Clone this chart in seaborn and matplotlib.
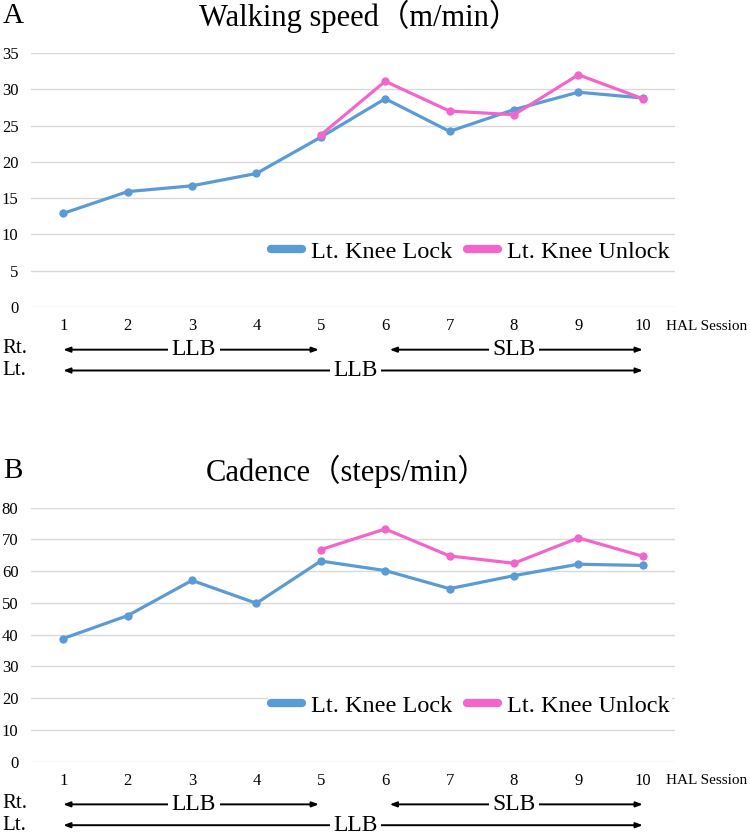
import pandas as pd
import matplotlib
matplotlib.use('Agg')
import matplotlib.pyplot as plt
from matplotlib.lines import Line2D
import seaborn as sns

# data
sessions = list(range(1, 11))
unlock_sessions = list(range(5, 11))
speed_lock = [12.9, 15.9, 16.7, 18.4, 23.4, 28.7, 24.2, 27.2, 29.6, 28.8]
speed_unlock = [23.7, 31.1, 27.0, 26.5, 32.0, 28.7]
cadence_lock = [38.8, 46.0, 57.1, 49.9, 63.2, 60.2, 54.5, 58.6, 62.2, 61.8]
cadence_unlock = [66.8, 73.3, 64.8, 62.5, 70.5, 64.7]
series_names = ['Lt. Knee Lock', 'Lt. Knee Unlock']
palette = {'Lt. Knee Lock': '#5B9BD5', 'Lt. Knee Unlock': '#F266CC'}

sns.set_style('white')
plt.rcParams['font.family'] = ['Liberation Serif', 'Noto Sans CJK JP']
plt.rcParams['text.color'] = 'black'
plt.rcParams['xtick.color'] = 'black'
plt.rcParams['ytick.color'] = 'black'

fig = plt.figure(figsize=(7.5, 8.35), dpi=100)
ax_a = fig.add_axes([31 / 750, 1 - 307 / 835, 644 / 750, 254 / 835])
ax_b = fig.add_axes([31 / 750, 1 - 761.7 / 835, 644 / 750, 254 / 835])


def draw_panel(ax, lock, unlock, ymax, ystep, legend_y):
    df = pd.concat([
        pd.DataFrame({'session': sessions, 'value': lock, 'cond': series_names[0]}),
        pd.DataFrame({'session': unlock_sessions, 'value': unlock, 'cond': series_names[1]}),
    ])
    sns.lineplot(data=df, x='session', y='value', hue='cond', palette=palette,
                 marker='o', markersize=6, markeredgewidth=0, linewidth=2.3,
                 ax=ax, legend=False)
    ax.set_xlim(0.5, 10.5)
    ax.set_ylim(0, ymax)
    ax.set_xticks(sessions)
    ax.set_yticks(range(0, ymax + 1, ystep))
    ax.set_xlabel('')
    ax.set_ylabel('')
    ax.grid(axis='y', color='#D9D9D9', linewidth=1)
    ax.set_axisbelow(True)
    for s in ax.spines.values():
        s.set_visible(False)
    ax.tick_params(axis='both', length=0, labelsize=12)
    ax.tick_params(axis='y', pad=9)
    ax.tick_params(axis='x', pad=8)

    handles = [Line2D([0], [0], color=palette[n], lw=6, solid_capstyle='round') for n in series_names]
    leg = ax.legend(handles, series_names, loc='center right', bbox_to_anchor=(0.995, legend_y),
                    ncol=2, frameon=True, fontsize=17.5, handlelength=1.3, handletextpad=0.35,
                    columnspacing=0.6, borderaxespad=0, borderpad=0.1)
    leg.get_frame().set_facecolor('white')
    leg.get_frame().set_edgecolor('none')
    leg.get_frame().set_alpha(1)

    tr = ax.get_xaxis_transform()
    ax.text(10.36, -0.075, 'HAL Session', transform=tr, ha='left', va='center', fontsize=11)

    # bearing rows
    ax.text(-0.045, -0.165, 'Rt.', transform=ax.transAxes, ha='left', va='center', fontsize=15)
    ax.text(-0.045, -0.25, 'Lt.', transform=ax.transAxes, ha='left', va='center', fontsize=15)
    arrows = [(1.0, 4.97, 3.03, -0.168, 'LLB'),
              (6.07, 10.0, 8.0, -0.168, 'SLB'),
              (1.0, 10.0, 5.54, -0.25, 'LLB')]
    for x0, x1, xt, y, lab in arrows:
        ax.annotate('', xy=(x1, y), xytext=(x0, y), xycoords=tr, textcoords=tr,
                    arrowprops=dict(arrowstyle='<|-|>,head_length=0.4,head_width=0.15',
                                    color='black', lw=1.4, shrinkA=0, shrinkB=0),
                    annotation_clip=False)
        ax.text(xt, y, lab, transform=tr, ha='center', va='center', fontsize=17,
                bbox=dict(facecolor='white', edgecolor='none', pad=2.5))


draw_panel(ax_a, speed_lock, speed_unlock, 35, 5, 0.218)
draw_panel(ax_b, cadence_lock, cadence_unlock, 80, 10, 0.221)

fig.text(3 / 750, 1 - 16 / 835, 'A', ha='left', va='center', fontsize=21)
fig.text(199 / 750, 1 - 16 / 835, 'Walking speed（m/min）', ha='left', va='center', fontsize=22)
fig.text(3 / 750, 1 - 471 / 835, 'B', ha='left', va='center', fontsize=21)
fig.text(206 / 750, 1 - 471 / 835, 'Cadence（steps/min）', ha='left', va='center', fontsize=22)

fig.savefig('out.png', dpi=100)
